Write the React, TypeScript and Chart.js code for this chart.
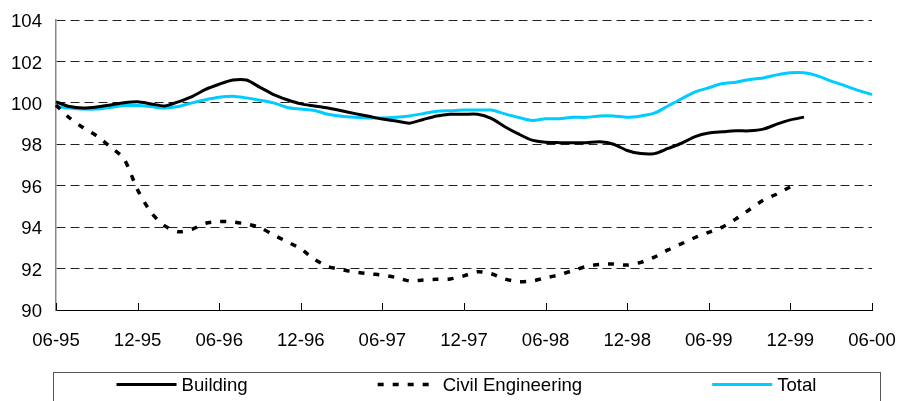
import React, { useEffect, useRef } from 'react';
import { Chart, registerables } from 'chart.js';

Chart.register(...registerables);

const categories = [
  '06-95', '07-95', '08-95', '09-95', '10-95', '11-95', '12-95',
  '01-96', '02-96', '03-96', '04-96', '05-96', '06-96', '07-96', '08-96', '09-96', '10-96', '11-96', '12-96',
  '01-97', '02-97', '03-97', '04-97', '05-97', '06-97', '07-97', '08-97', '09-97', '10-97', '11-97', '12-97',
  '01-98', '02-98', '03-98', '04-98', '05-98', '06-98', '07-98', '08-98', '09-98', '10-98', '11-98', '12-98',
  '01-99', '02-99', '03-99', '04-99', '05-99', '06-99', '07-99', '08-99', '09-99', '10-99', '11-99', '12-99',
  '01-00', '02-00', '03-00', '04-00', '05-00', '06-00',
];

const tickLabels = ['06-95', '12-95', '06-96', '12-96', '06-97', '12-97', '06-98', '12-98', '06-99', '12-99', '06-00'];

const yTicks = [90, 92, 94, 96, 98, 100, 102, 104];

const building = [
  100.05, 99.82, 99.75, 99.8, 99.9, 100.0, 100.05, 99.95, 99.85, 100.05, 100.3, 100.65, 100.9,
  101.1, 101.1, 100.75, 100.4, 100.15, 99.95, 99.85, 99.75, 99.62, 99.48, 99.35, 99.22,
  99.12, 99.02, 99.2, 99.37, 99.45, 99.45, 99.45, 99.25, 98.85, 98.5, 98.2, 98.1,
  98.08, 98.08, 98.08, 98.12, 98.0, 97.7, 97.55, 97.55, 97.8, 98.05, 98.37, 98.54,
  98.6, 98.65, 98.65, 98.73, 98.97, 99.18, 99.31,
];

const civilEngineering = [
  99.9, 99.27, 98.8, 98.4, 97.87, 97.3, 95.8, 94.7, 94.06, 93.78, 93.9, 94.19, 94.27,
  94.25, 94.15, 93.98, 93.62, 93.3, 92.95, 92.45, 92.1, 91.95, 91.83, 91.75, 91.69,
  91.57, 91.4, 91.45, 91.48, 91.5, 91.65, 91.85, 91.75, 91.5, 91.37, 91.4, 91.55,
  91.7, 91.9, 92.1, 92.2, 92.22, 92.17, 92.3, 92.55, 92.9, 93.2, 93.5, 93.75,
  94.0, 94.4, 94.85, 95.3, 95.6, 95.95,
];

const total = [
  99.82, 99.75, 99.7, 99.7, 99.78, 99.87, 99.87, 99.82, 99.75, 99.82, 100.0, 100.15, 100.27,
  100.32, 100.24, 100.13, 100.0, 99.78, 99.7, 99.63, 99.45, 99.35, 99.3, 99.27, 99.27,
  99.3, 99.37, 99.48, 99.6, 99.62, 99.65, 99.65, 99.65, 99.47, 99.3, 99.15, 99.23,
  99.23, 99.3, 99.3, 99.37, 99.37, 99.3, 99.37, 99.5, 99.85, 100.2, 100.53, 100.73,
  100.93, 101.0, 101.13, 101.2, 101.35, 101.45, 101.45, 101.3, 101.05, 100.83, 100.6, 100.4,
];

const FONT = "'Liberation Sans', Arial, sans-serif";
const FONT_SIZE = 18.6;

const innerTicksPlugin = {
  id: 'innerTicks',
  afterDatasetsDraw(chart: any) {
    const { ctx, chartArea, scales } = chart;
    const x = scales.x;
    ctx.save();
    ctx.strokeStyle = '#000';
    ctx.lineWidth = 1;
    ctx.beginPath();
    tickLabels.forEach((lab) => {
      const idx = categories.indexOf(lab);
      const px = Math.round(x.getPixelForValue(idx)) + 0.5;
      ctx.moveTo(px, chartArea.bottom);
      ctx.lineTo(px, chartArea.bottom - 7);
    });
    ctx.stroke();
    ctx.restore();
  },
};

const boxLegendPlugin = {
  id: 'boxLegend',
  afterDraw(chart: any) {
    const { ctx, chartArea } = chart;
    const left = chartArea.left - 3;
    const right = chartArea.right + 8;
    const top = chartArea.bottom + 62;
    ctx.save();
    ctx.strokeStyle = '#555';
    ctx.lineWidth = 1;
    ctx.strokeRect(Math.round(left) + 0.5, Math.round(top) + 0.5, right - left, 60);

    ctx.font = `${FONT_SIZE}px ${FONT}`;
    const lineLen = 60;
    const textGap = 5;
    const gap = 130;
    const items = chart.data.datasets.map((ds: any) => {
      const tw = ctx.measureText(ds.label).width;
      return { ds, tw, w: lineLen + textGap + tw };
    });
    const totalW = items.reduce((s: number, it: any) => s + it.w, 0) + gap * (items.length - 1);
    let cx = (left + right) / 2 - totalW / 2;
    const cy = top + 12.5;
    items.forEach((it: any) => {
      ctx.beginPath();
      ctx.strokeStyle = it.ds.borderColor;
      ctx.lineWidth = it.ds.borderWidth;
      ctx.setLineDash(it.ds.borderDash || []);
      ctx.moveTo(cx, cy);
      ctx.lineTo(cx + lineLen, cy);
      ctx.stroke();
      ctx.setLineDash([]);
      ctx.fillStyle = '#000';
      ctx.textBaseline = 'middle';
      ctx.textAlign = 'left';
      ctx.fillText(it.ds.label, cx + lineLen + textGap, cy + 1);
      cx += it.w + gap;
    });
    ctx.restore();
  },
};

export default function App() {
  const canvasRef = useRef<HTMLCanvasElement | null>(null);

  useEffect(() => {
    document.body.style.margin = '0';
    const canvas = canvasRef.current;
    if (!canvas) return;
    const chart = new Chart(canvas, {
      type: 'line',
      data: {
        labels: categories,
        datasets: [
          {
            label: 'Building',
            data: building,
            borderColor: '#000000',
            borderWidth: 3,
            pointRadius: 0,
            tension: 0.25,
            fill: false,
          },
          {
            label: 'Civil Engineering',
            data: civilEngineering,
            borderColor: '#000000',
            borderWidth: 3.5,
            borderDash: [6, 9],
            pointRadius: 0,
            tension: 0.25,
            fill: false,
          },
          {
            label: 'Total',
            data: total,
            borderColor: '#00CCFF',
            borderWidth: 3,
            pointRadius: 0,
            tension: 0.25,
            fill: false,
          },
        ],
      },
      options: {
        animation: false,
        responsive: false,
        devicePixelRatio: 1,
        layout: { padding: { top: 20, right: 26, bottom: 0, left: 0 } },
        plugins: {
          legend: { display: false },
          tooltip: { enabled: false },
        },
        scales: {
          x: {
            type: 'category',
            offset: false,
            grid: { display: false, drawTicks: false },
            border: { display: true, color: '#000', width: 1 },
            ticks: {
              autoSkip: false,
              maxRotation: 0,
              minRotation: 0,
              padding: 20,
              color: '#000',
              font: { family: FONT, size: FONT_SIZE },
              callback: (_v: any, index: number) => {
                const lab = categories[index];
                return tickLabels.includes(lab) ? lab : null;
              },
            },
            afterFit: (scale: any) => {
              scale.height = 91;
              scale.paddingLeft = 0;
              scale.paddingRight = 0;
            },
          },
          y: {
            min: 90,
            max: 104,
            afterBuildTicks: (scale: any) => {
              scale.ticks = yTicks.map((v) => ({ value: v }));
            },
            grid: {
              drawTicks: false,
              color: (c: any) => (c.tick && c.tick.value === 90 ? 'rgba(0,0,0,0)' : '#222'),
              lineWidth: 1,
            },
            border: { display: true, color: '#888', width: 1.5, dash: [9, 5] },
            ticks: {
              padding: 14,
              labelOffset: 2,
              color: '#000',
              font: { family: FONT, size: FONT_SIZE },
            },
            afterFit: (scale: any) => {
              scale.width = 56;
              scale.paddingTop = 0;
              scale.paddingBottom = 0;
            },
          },
        },
      },
      plugins: [innerTicksPlugin, boxLegendPlugin],
    });
    return () => chart.destroy();
  }, []);

  return (
    <div style={{ width: 898, height: 401, position: 'relative', background: '#fff' }}>
      <canvas ref={canvasRef} width={898} height={401} />
    </div>
  );
}
